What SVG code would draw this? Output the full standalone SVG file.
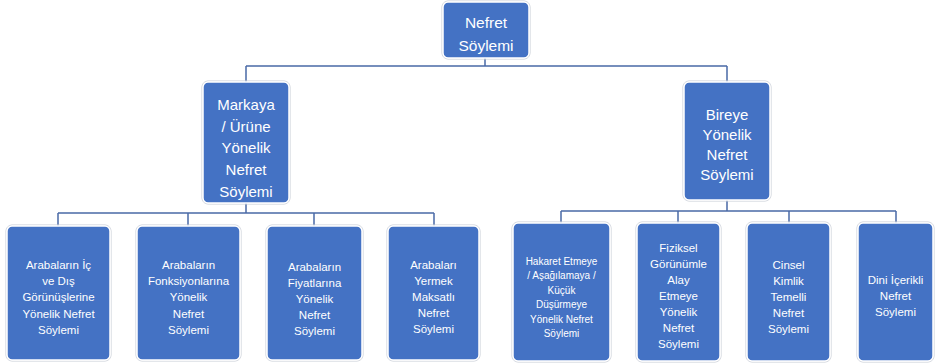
<svg xmlns="http://www.w3.org/2000/svg" width="935" height="364" viewBox="0 0 935 364">
<style>
.box{fill:#4472C4;stroke:#ffffff;stroke-width:1.5}
.halo{fill:none;stroke:#c8cdd6;stroke-width:1}
.t{fill:#ffffff;font-family:"Liberation Sans","Noto Sans",sans-serif;text-anchor:middle}
.big{font-size:15.5px}
.mid{font-size:15px}
.sm{font-size:11.5px}
.xs{font-size:10px}
.c{fill:none;stroke:#4a6aa6;stroke-width:1.5}
</style>
<rect width="935" height="364" fill="#ffffff"/>
<g id="connectors">
<path class="c" d="M485,58V66M246,66H727M246,66V82M727,66V82"/>
<path class="c" d="M246,202V213M58,213H434M58,213V226M188,213V226M314,213V226M434,213V226"/>
<path class="c" d="M727,200V211M561,211H896M561,211V223M678,211V223M789,211V223M896,211V223"/>
</g>
<g id="n0">
<rect class="halo" x="442" y="1" width="88" height="58" rx="6"/>
<rect class="box" x="443" y="2" width="86" height="56" rx="5"/>
<text class="t big" x="486" y="28">Nefret</text>
<text class="t big" x="486" y="51">Söylemi</text>
</g>
<g id="n1">
<rect class="halo" x="202" y="81" width="88" height="123" rx="6"/>
<rect class="box" x="203" y="82" width="86" height="121" rx="5"/>
<text class="t mid" x="246" y="110">Markaya</text>
<text class="t mid" x="246" y="132">/ Ürüne</text>
<text class="t mid" x="246" y="153">Yönelik</text>
<text class="t mid" x="246" y="175">Nefret</text>
<text class="t mid" x="246" y="197">Söylemi</text>
</g>
<g id="n2">
<rect class="halo" x="683" y="81" width="88" height="120" rx="6"/>
<rect class="box" x="684" y="82" width="86" height="118" rx="5"/>
<text class="t mid" x="727" y="120">Bireye</text>
<text class="t mid" x="727" y="140">Yönelik</text>
<text class="t mid" x="727" y="160">Nefret</text>
<text class="t mid" x="727" y="180">Söylemi</text>
</g>
<g id="l1">
<rect class="halo" x="6" y="225" width="105" height="136" rx="6"/>
<rect class="box" x="7" y="226" width="103" height="134" rx="5"/>
<text class="t sm" x="58.5" y="269">Arabaların İç</text>
<text class="t sm" x="58.5" y="285">ve Dış</text>
<text class="t sm" x="58.5" y="301">Görünüşlerine</text>
<text class="t sm" x="58.5" y="318">Yönelik Nefret</text>
<text class="t sm" x="58.5" y="334">Söylemi</text>
</g>
<g id="l2">
<rect class="halo" x="136" y="225" width="105" height="136" rx="6"/>
<rect class="box" x="137" y="226" width="103" height="134" rx="5"/>
<text class="t sm" x="188.5" y="269">Arabaların</text>
<text class="t sm" x="188.5" y="285">Fonksiyonlarına</text>
<text class="t sm" x="188.5" y="301">Yönelik</text>
<text class="t sm" x="188.5" y="318">Nefret</text>
<text class="t sm" x="188.5" y="334">Söylemi</text>
</g>
<g id="l3">
<rect class="halo" x="266" y="225" width="97" height="136" rx="6"/>
<rect class="box" x="267" y="226" width="95" height="134" rx="5"/>
<text class="t sm" x="314.5" y="271">Arabaların</text>
<text class="t sm" x="314.5" y="287">Fiyatlarına</text>
<text class="t sm" x="314.5" y="303">Yönelik</text>
<text class="t sm" x="314.5" y="319">Nefret</text>
<text class="t sm" x="314.5" y="335">Söylemi</text>
</g>
<g id="l4">
<rect class="halo" x="387" y="225" width="93" height="136" rx="6"/>
<rect class="box" x="388" y="226" width="91" height="134" rx="5"/>
<text class="t sm" x="433.5" y="269">Arabaları</text>
<text class="t sm" x="433.5" y="285">Yermek</text>
<text class="t sm" x="433.5" y="301">Maksatlı</text>
<text class="t sm" x="433.5" y="317">Nefret</text>
<text class="t sm" x="433.5" y="333">Söylemi</text>
</g>
<g id="l5">
<rect class="halo" x="512" y="222" width="99" height="140" rx="6"/>
<rect class="box" x="513" y="223" width="97" height="138" rx="5"/>
<text class="t xs" x="561.5" y="265">Hakaret Etmeye</text>
<text class="t xs" x="561.5" y="279">/ Aşağılamaya /</text>
<text class="t xs" x="561.5" y="294">Küçük</text>
<text class="t xs" x="561.5" y="308">Düşürmeye</text>
<text class="t xs" x="561.5" y="323">Yönelik Nefret</text>
<text class="t xs" x="561.5" y="337">Söylemi</text>
</g>
<g id="l6">
<rect class="halo" x="636" y="222" width="85" height="140" rx="6"/>
<rect class="box" x="637" y="223" width="83" height="138" rx="5"/>
<text class="t sm" x="678.5" y="252">Fiziksel</text>
<text class="t sm" x="678.5" y="268">Görünümle</text>
<text class="t sm" x="678.5" y="284">Alay</text>
<text class="t sm" x="678.5" y="300">Etmeye</text>
<text class="t sm" x="678.5" y="316">Yönelik</text>
<text class="t sm" x="678.5" y="332">Nefret</text>
<text class="t sm" x="678.5" y="348">Söylemi</text>
</g>
<g id="l7">
<rect class="halo" x="746" y="222" width="85" height="140" rx="6"/>
<rect class="box" x="747" y="223" width="83" height="138" rx="5"/>
<text class="t sm" x="788.5" y="269">Cinsel</text>
<text class="t sm" x="788.5" y="285">Kimlik</text>
<text class="t sm" x="788.5" y="301">Temelli</text>
<text class="t sm" x="788.5" y="317">Nefret</text>
<text class="t sm" x="788.5" y="333">Söylemi</text>
</g>
<g id="l8">
<rect class="halo" x="857" y="222" width="77" height="140" rx="6"/>
<rect class="box" x="858" y="223" width="75" height="138" rx="5"/>
<text class="t sm" x="895.5" y="284">Dini İçerikli</text>
<text class="t sm" x="895.5" y="300">Nefret</text>
<text class="t sm" x="895.5" y="316">Söylemi</text>
</g>
</svg>
